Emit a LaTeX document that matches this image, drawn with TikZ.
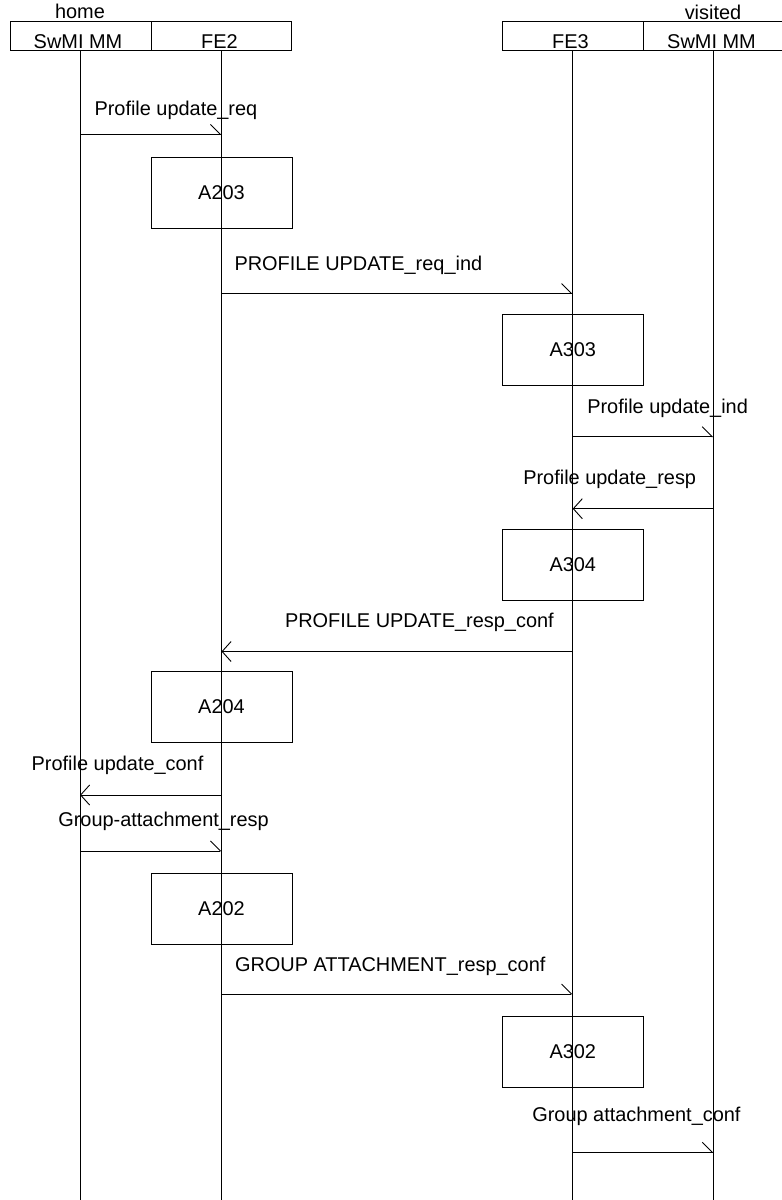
\documentclass[tikz,border=0pt]{standalone}
\usepackage{fontspec}
\setmainfont{Liberation Sans}
\usetikzlibrary{arrows.meta}
\begin{document}
\begin{tikzpicture}[x=1bp,y=-1bp, line width=0.9bp,
  every node/.style={font=\fontsize{20}{24}\selectfont, inner sep=0pt, outer sep=0pt},
  hdr/.style={draw, minimum height=29bp, anchor=north west},
  act/.style={draw, minimum width=141bp, minimum height=71bp, anchor=north west},
  lbl/.style={anchor=base west},
  toplbl/.style={anchor=base},
  msgr/.style={-{Straight Barb[harpoon,length=10bp,width=20bp]}},
  msgl/.style={-{Straight Barb[length=9bp,width=20bp]}}]
\useasboundingbox (0,0) rectangle (782,1200);

% header
\node[toplbl] (home) at (80,18) {home};
\node[toplbl] (visited) at (713,19) {visited};
\node[hdr, minimum width=141bp] (h1) at (10,21) {};
\node[hdr, minimum width=140.5bp] (h2) at (151,21) {};
\node[hdr, minimum width=141bp] (h3) at (502,21) {};
\node[hdr, minimum width=141bp] (h4) at (643,21) {};
\node[toplbl] (t1) at (78,48.5) {SwMI MM};
\node[toplbl] (t2) at (219.5,48.5) {FE2};
\node[toplbl] (t3) at (570.5,48.5) {FE3};
\node[toplbl] (t4) at (711.5,48.5) {SwMI MM};

% lifelines
\coordinate (L1t) at (80,50);    \coordinate (L1b) at (80,1200);
\coordinate (L2t) at (221.5,50); \coordinate (L2b) at (221.5,1200);
\coordinate (L3t) at (572.7,50); \coordinate (L3b) at (572.7,1200);
\coordinate (L4t) at (713.3,50); \coordinate (L4b) at (713.3,1200);
\draw (L1t) -- (L1b);
\draw (L2t) -- (L2b);
\draw (L3t) -- (L3b);
\draw (L4t) -- (L4b);

% action boxes
\node[act] (A203) at (151,157.5) {A203};
\node[act] (A303) at (502.3,314) {A303};
\node[act] (A304) at (502.3,529) {A304};
\node[act] (A204) at (151,671.5) {A204};
\node[act] (A202) at (151,873.5) {A202};
\node[act] (A302) at (502.3,1016.3) {A302};

% messages
\coordinate (m1a) at (80,134.5);    \coordinate (m1b) at (221.5,134.5);
\draw[msgr] (m1a) -- (m1b);
\node[lbl] (l1) at (94.5,115) {Profile update\_req};

\coordinate (m2a) at (221.5,293.5); \coordinate (m2b) at (572.7,293.5);
\draw[msgr] (m2a) -- (m2b);
\node[lbl] (l2) at (234.5,270.7) {PROFILE UPDATE\_req\_ind};

\coordinate (m3a) at (572.7,436.7); \coordinate (m3b) at (713.3,436.7);
\draw[msgr] (m3a) -- (m3b);
\node[lbl] (l3) at (587.3,413.3) {Profile update\_ind};

\coordinate (m4a) at (713.3,508.7); \coordinate (m4b) at (572.7,508.7);
\draw[msgl] (m4a) -- (m4b);
\node[lbl] (l4) at (523.3,484) {Profile update\_resp};

\coordinate (m5a) at (572.7,651.5); \coordinate (m5b) at (221.5,651.5);
\draw[msgl] (m5a) -- (m5b);
\node[lbl] (l5) at (285,627.3) {PROFILE UPDATE\_resp\_conf};

\coordinate (m6a) at (221.5,795); \coordinate (m6b) at (80,795);
\draw[msgl] (m6a) -- (m6b);
\node[lbl] (l6) at (31.7,770.7) {Profile update\_conf};

\coordinate (m7a) at (80,851); \coordinate (m7b) at (221.5,851);
\draw[msgr] (m7a) -- (m7b);
\node[lbl] (l7) at (58.3,826) {Group-attachment\_resp};

\coordinate (m8a) at (221.5,994); \coordinate (m8b) at (572.7,994);
\draw[msgr] (m8a) -- (m8b);
\node[lbl] (l8) at (235,971.7) {GROUP ATTACHMENT\_resp\_conf};

\coordinate (m9a) at (572.7,1152.3); \coordinate (m9b) at (713.3,1152.3);
\draw[msgr] (m9a) -- (m9b);
\node[lbl] (l9) at (532.3,1121.7) {Group attachment\_conf};
\end{tikzpicture}
\end{document}
